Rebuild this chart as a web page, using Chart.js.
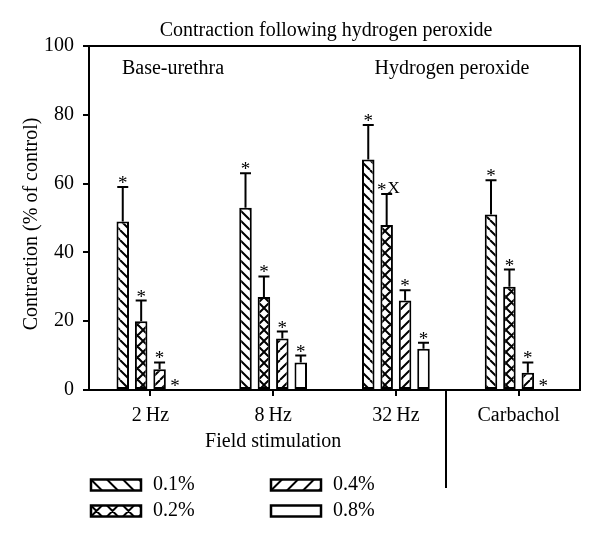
<!DOCTYPE html>
<html lang="en">
<head>
  <meta charset="UTF-8">
  <title>Contraction following hydrogen peroxide</title>
  <script src="https://cdn.jsdelivr.net/npm/chart.js"></script>
  <style>
    body { margin: 0; background: #fff; }
    canvas { display: block; }
  </style>
</head>
<body>

<canvas id="contractionChart" width="600" height="544"></canvas>

<script>
  const categories = ["2\u2009Hz", "8\u2009Hz", "32\u2009Hz", "Carbachol"];
  const seriesLabels = ["0.1%", "0.2%", "0.4%", "0.8%"];
  const yTicks = [0, 20, 40, 60, 80, 100];

  // mean and upper error (% of control)
  const means01 = [49, 53, 67, 51];
  const errors01 = [10, 10, 10, 10];
  const means02 = [20, 27, 48, 30];
  const errors02 = [6, 6, 9, 5];
  const means04 = [6, 15, 26, 5];
  const errors04 = [2, 2, 3, 3];
  const means08 = [0, 8, 12, 0];
  const errors08 = [0, 2, 1.7, 0];

  // significance marks above each bar
  const marks01 = ["*", "*", "*", "*"];
  const marks02 = ["*", "*", "*X", "*"];
  const marks04 = ["*", "*", "*", "*"];
  const marks08 = ["*", "*", "*", "*"];

  const FONT = "'Liberation Serif', 'DejaVu Serif', serif";
  const SIZE = 20;

  function makePattern(kind, size) {
    const c = document.createElement("canvas");
    c.width = size; c.height = size;
    const g = c.getContext("2d");
    g.fillStyle = "#fff";
    g.fillRect(0, 0, size, size);
    g.strokeStyle = "#000";
    g.lineWidth = 2;
    g.beginPath();
    if (kind === "back" || kind === "cross") {
      for (const o of [-size, 0, size]) {
        g.moveTo(o, 0); g.lineTo(o + size, size);
      }
    }
    if (kind === "fwd" || kind === "cross") {
      for (const o of [0, size, 2 * size]) {
        g.moveTo(o, 0); g.lineTo(o - size, size);
      }
    }
    g.stroke();
    return g.createPattern(c, "repeat");
  }

  const ctx = document.getElementById("contractionChart").getContext("2d");
  const fills = [makePattern("back", 10), makePattern("cross", 11), makePattern("fwd", 10), "#fff"];
  const legendKinds = ["back", "cross", "fwd", "none"];
  const errorSets = [errors01, errors02, errors04, errors08];
  const markSets = [marks01, marks02, marks04, marks08];

  const overlay = {
    id: "overlay",
    afterDatasetsDraw(chart) {
      const c = chart.ctx;
      const y = chart.scales.y;
      c.save();
      c.strokeStyle = "#000";
      c.fillStyle = "#000";
      c.lineWidth = 2;
      c.textAlign = "center";
      c.textBaseline = "alphabetic";
      c.font = "19px " + FONT;
      chart.data.datasets.forEach((ds, di) => {
        const meta = chart.getDatasetMeta(di);
        meta.data.forEach((bar, i) => {
          const v = ds.data[i];
          const e = errorSets[di][i];
          const mark = markSets[di][i];
          if (v === 0 && e === 0) {
            c.fillText(mark, bar.x - 3, y.getPixelForValue(0) + 2);
            return;
          }
          const top = y.getPixelForValue(v + e);
          const base = y.getPixelForValue(v);
          c.beginPath();
          c.moveTo(bar.x, base);
          c.lineTo(bar.x, top);
          c.moveTo(bar.x - 5.5, top);
          c.lineTo(bar.x + 5.5, top);
          c.stroke();
          if (mark.length > 1) {
            c.fillText("*", bar.x - 5, top + 2);
            c.font = "17px " + FONT;
            c.fillText("X", bar.x + 7, top - 1);
            c.font = "19px " + FONT;
          } else {
            c.fillText(mark, bar.x, top + 2);
          }
        });
      });
      c.restore();
    },
    afterDraw(chart) {
      const c = chart.ctx;
      const a = chart.chartArea;
      const x = chart.scales.x;
      c.save();
      c.strokeStyle = "#000";
      c.lineWidth = 2;
      // frame top and right
      c.beginPath();
      c.moveTo(a.left, a.top);
      c.lineTo(a.right, a.top);
      c.lineTo(a.right, a.bottom);
      c.stroke();
      // divider between field stimulation and carbachol
      const dx = Math.round(x.getPixelForValue(2.41));
      c.beginPath();
      c.moveTo(dx, a.bottom);
      c.lineTo(dx, 488);
      c.stroke();

      c.fillStyle = "#000";
      c.font = SIZE + "px " + FONT;
      c.textAlign = "center";
      c.textBaseline = "middle";
      c.fillText("Contraction following hydrogen peroxide", 326, 31);
      c.fillText("Base-urethra", 173, 69);
      c.fillText("Hydrogen peroxide", 452, 69);
      c.fillText("Field stimulation", x.getPixelForValue(1), 442);

      c.save();
      c.translate(32, 224);
      c.rotate(-Math.PI / 2);
      c.fillText("Contraction (% of control)", 0, 0);
      c.restore();

      // legend, two columns
      const spots = [[91, 485], [91, 511], [271, 485], [271, 511]];
      seriesLabels.forEach((lab, i) => {
        const [lx, ly] = spots[i];
        const w = 50, h = 11, top = ly - h / 2;
        c.fillStyle = "#fff";
        c.fillRect(lx, top, w, h);
        c.save();
        c.beginPath();
        c.rect(lx, top, w, h);
        c.clip();
        c.beginPath();
        c.lineWidth = 2;
        const k = legendKinds[i];
        for (let s = -16; s < w + 16; s += 16) {
          if (k === "back" || k === "cross") { c.moveTo(lx + s, top); c.lineTo(lx + s + h, top + h); }
          if (k === "fwd" || k === "cross") { c.moveTo(lx + s + h, top); c.lineTo(lx + s, top + h); }
        }
        c.stroke();
        c.restore();
        c.lineWidth = 2.5;
        c.strokeRect(lx, top, w, h);
        c.fillStyle = "#000";
        c.textAlign = "left";
        c.fillText(lab, lx + 62, ly);
      });
      c.restore();
    }
  };

  const chart = new Chart(ctx, {
    type: "bar",
    data: {
      labels: categories,
      datasets: [
        { label: seriesLabels[0], data: means01, backgroundColor: fills[0] },
        { label: seriesLabels[1], data: means02, backgroundColor: fills[1] },
        { label: seriesLabels[2], data: means04, backgroundColor: fills[2] },
        { label: seriesLabels[3], data: means08, backgroundColor: fills[3] }
      ].map(d => Object.assign(d, {
        borderColor: "#000",
        borderWidth: 2,
        borderSkipped: false,
        categoryPercentage: 0.6,
        barPercentage: 0.68
      }))
    },
    options: {
      responsive: false,
      animation: false,
      layout: { padding: { top: 46, right: 20, left: 0, bottom: 0 } },
      plugins: {
        legend: { display: false },
        tooltip: { enabled: false }
      },
      scales: {
        x: {
          offset: true,
          grid: { offset: false, drawOnChartArea: false, tickLength: 6, color: "#000", lineWidth: 2 },
          border: { color: "#000", width: 2 },
          ticks: { color: "#000", font: { family: FONT, size: SIZE }, padding: 8 },
          afterFit(s) { s.height = 154; }
        },
        y: {
          min: 0,
          max: 100,
          afterBuildTicks(s) { s.ticks = yTicks.map(v => ({ value: v })); },
          grid: { drawOnChartArea: false, tickLength: 6, color: "#000", lineWidth: 2 },
          border: { color: "#000", width: 2 },
          ticks: { color: "#000", font: { family: FONT, size: SIZE }, padding: 9 },
          afterFit(s) { s.width = 89; }
        }
      }
    },
    plugins: [overlay]
  });
</script>

</body>
</html>
